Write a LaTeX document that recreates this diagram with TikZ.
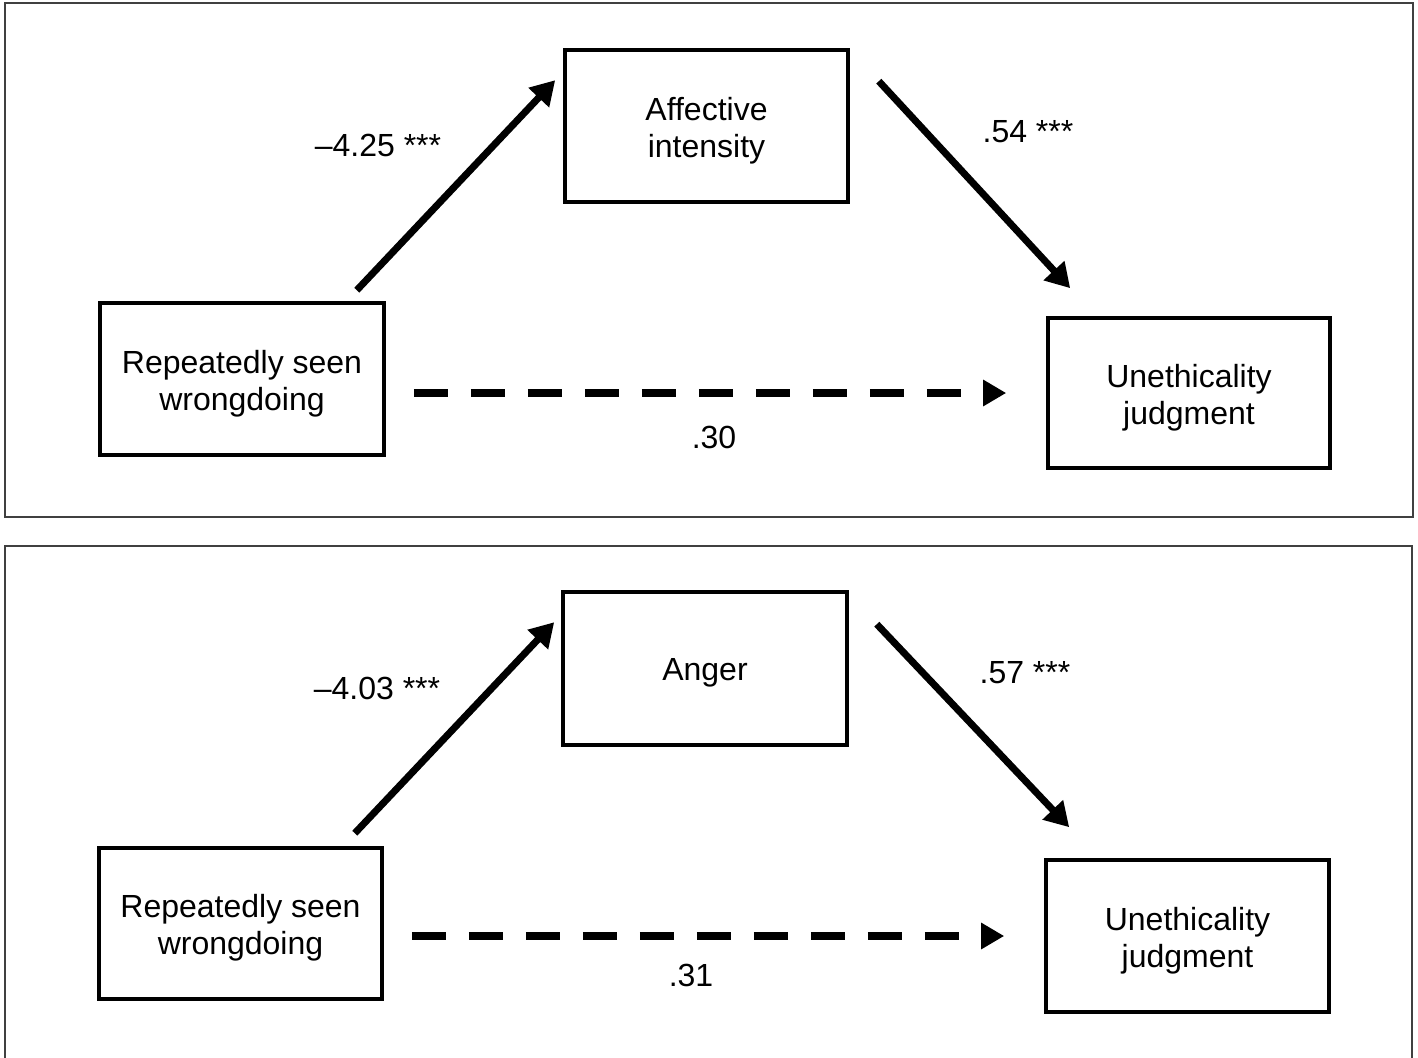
\documentclass[tikz,border=0pt]{standalone}
\usepackage{fontspec}
\setmainfont{Liberation Sans}
\usetikzlibrary{arrows.meta}
\begin{document}
\begin{tikzpicture}[x=1pt,y=-1pt,
  every node/.style={font=\fontsize{32}{37}\selectfont},
  varbox/.style={draw=black,line width=3.6pt,rectangle,inner sep=0pt},
  boxtext/.style={align=center,inner sep=0pt,yshift=-4.5pt},
  panel/.style={draw=black!75,line width=1.6pt},
  arr/.style={line width=7pt,-{Triangle[length=24pt,width=27pt]}},
  darr/.style={line width=7.5pt,dash pattern=on 34pt off 23pt,-{Triangle[length=23pt,width=25pt]}},
  coef/.style={anchor=base,inner sep=0pt}]
\useasboundingbox (0,0) rectangle (1418,1057);
\fill[white] (0,0) rectangle (1418,1057);
% panels
\draw[panel] (5,3) rectangle (1413,517);
\draw[panel] (5,1060) -- (5,546) -- (1412,546) -- (1412,1060);
% ---- top panel ----
\node[varbox,minimum width=284pt,minimum height=152pt,label={[boxtext]center:Repeatedly seen\\wrongdoing}] (rep1) at (242,379) {};
\node[varbox,minimum width=283pt,minimum height=152pt,label={[boxtext]center:Affective\\intensity}] (aff) at (706.5,126) {};
\node[varbox,minimum width=282pt,minimum height=150pt,label={[boxtext]center:Unethicality\\judgment}] (une1) at (1189,393) {};
\draw[arr] ([xshift=-29pt,yshift=11pt]rep1.north east) -- ([xshift=-8pt,yshift=-32pt]aff.north west);
\draw[arr] ([xshift=29pt,yshift=-33pt]aff.north east) -- ([xshift=24pt,yshift=28pt]une1.north west);
\draw[darr] ([xshift=28pt]rep1.east |- une1.west) -- ([xshift=-40pt]une1.west);
\node[coef] (c1) at (378,156) {–4.25 ***};
\node[coef] (c2) at (1028,142) {.54 ***};
\node[coef] (c3) at (714,448) {.30};
% ---- bottom panel ----
\node[varbox,minimum width=283pt,minimum height=151pt,label={[boxtext]center:Repeatedly seen\\wrongdoing}] (rep2) at (240.5,923.5) {};
\node[varbox,minimum width=284pt,minimum height=153pt,label={[boxtext]center:Anger}] (ang) at (705,668.5) {};
\node[varbox,minimum width=283pt,minimum height=152pt,label={[boxtext]center:Unethicality\\judgment}] (une2) at (1187.5,936) {};
\draw[arr] ([xshift=-29pt,yshift=13pt]rep2.north east) -- ([xshift=-7pt,yshift=-32pt]ang.north west);
\draw[arr] ([xshift=28pt,yshift=-34pt]ang.north east) -- ([xshift=25pt,yshift=31pt]une2.north west);
\draw[darr] ([xshift=28pt]rep2.east |- une2.west) -- ([xshift=-40pt]une2.west);
\node[coef] (c4) at (377,699) {–4.03 ***};
\node[coef] (c5) at (1025,683) {.57 ***};
\node[coef] (c6) at (691,986) {.31};
\end{tikzpicture}
\end{document}
